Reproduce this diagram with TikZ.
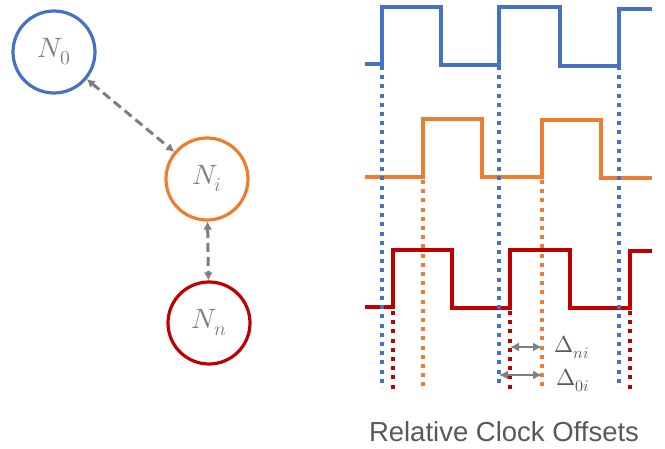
\documentclass[tikz,border=0pt]{standalone}
\usepackage{fontspec}
\usepackage{unicode-math}
\setmainfont{Liberation Sans}
\setmathfont{Latin Modern Math}
\usetikzlibrary{arrows.meta}
\definecolor{clkazul}{HTML}{4472C4}
\definecolor{clklaranja}{HTML}{ED7D31}
\definecolor{clkverm}{HTML}{C00000}
\definecolor{clkcinza}{HTML}{7F7F7F}
\definecolor{clktexto}{HTML}{595959}
\tikzset{
  no/.style={circle,line width=3.2pt,minimum size=82pt,inner sep=0pt,text=clkcinza,font=\fontsize{28}{28}\selectfont},
  elo/.style={clkcinza,line width=3pt,dash pattern=on 9pt off 5pt,{Latex[length=8pt,width=9pt]}-{Latex[length=8pt,width=9pt]}},
  onda/.style={line width=3.5pt,line join=miter},
  marca/.style={line width=3.4pt,dash pattern=on 4pt off 5.2pt},
  cota/.style={clkcinza,line width=2.5pt,{Latex[length=9pt,width=9pt]}-{Latex[length=9pt,width=9pt]}},
  rot/.style={text=clktexto,font=\fontsize{23}{23}\selectfont,anchor=base west,inner sep=0pt},
  legenda/.style={text=clktexto,font=\fontsize{27.5}{27.5}\selectfont},
}
\begin{document}
\begin{tikzpicture}[x=1pt,y=-1pt]
  \useasboundingbox (0,0) rectangle (665,449);
  % nos
  \node[no,draw=clkazul] (n0) at (54,52) {$N_0$};
  \node[no,draw=clklaranja] (ni) at (207,179) {$N_i$};
  \node[no,draw=clkverm] (nn) at (209,323) {$N_n$};
  \draw[elo] (n0) -- (ni);
  \draw[elo] (ni) -- (nn);
  % relogios
  \draw[onda,clkazul] (365,64) -- (382,64) -- (382,7) -- (441,7) -- (441,65) -- (499,65)
    -- (499,7) -- (560,7) -- (560,66) -- (619,66) -- (619,9) -- (652,9);
  \draw[onda,clklaranja] (365,177) -- (423,177) -- (423,119) -- (482,119) -- (482,177) -- (542,177)
    -- (542,120) -- (601,120) -- (601,178) -- (652,178);
  \draw[onda,clkverm] (365,307) -- (393,307) -- (393,250) -- (452,250) -- (452,308) -- (510,308)
    -- (510,250) -- (570,250) -- (570,308) -- (630,308) -- (630,251) -- (652,251);
  % marcas das bordas
  \foreach \x in {382,499,619} \draw[marca,clkazul] (\x,66) -- (\x,388);
  \foreach \x in {423,542} \draw[marca,clklaranja] (\x,180) -- (\x,388);
  \foreach \x in {393,510,630} \draw[marca,clkverm] (\x,311) -- (\x,390);
  % offsets
  \coordinate (dnA) at (510,347); \coordinate (dnB) at (542,347);
  \coordinate (d0A) at (499,375); \coordinate (d0B) at (542,375);
  \draw[cota] (dnA) -- (dnB);
  \draw[cota] (d0A) -- (d0B);
  \node[rot] (lni) at (554,353) {$\Delta_{ni}$};
  \node[rot] (l0i) at (556,386) {$\Delta_{0i}$};
  \node[legenda] (leg) at (504,432) {Relative Clock Offsets};
\end{tikzpicture}
\end{document}
